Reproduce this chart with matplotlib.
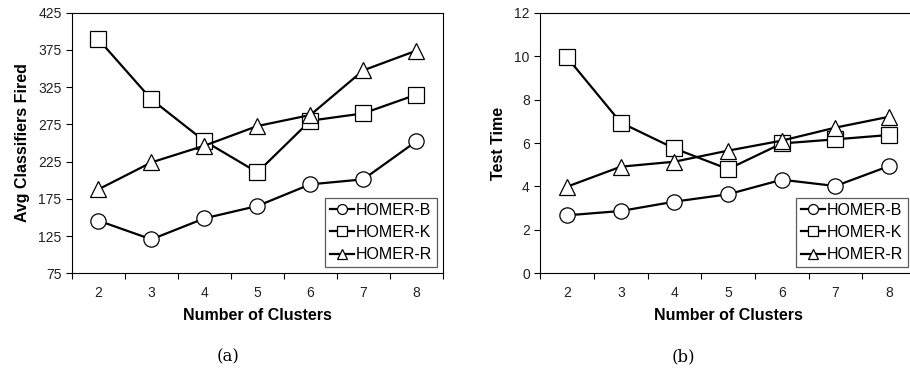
import matplotlib
matplotlib.use("Agg")
import matplotlib.pyplot as plt

plt.rcParams['font.family'] = ['Liberation Sans', 'DejaVu Sans']

clusters = [2, 3, 4, 5, 6, 7, 8]
series_names = ["HOMER-B", "HOMER-K", "HOMER-R"]
markers = ["o", "s", "^"]

# (a) Avg Classifiers Fired
fired_b = [145.7, 120.6, 148.8, 165.4, 194.5, 201.2, 252.2]
fired_k = [389.2, 308.6, 252.7, 210.6, 280.0, 289.8, 314.9]
fired_r = [187.8, 224.0, 246.4, 272.8, 287.6, 347.6, 374.0]

# (b) Test Time
time_b = [2.67, 2.87, 3.30, 3.64, 4.31, 4.02, 4.94]
time_k = [9.94, 6.94, 5.75, 4.80, 5.98, 6.17, 6.37]
time_r = [3.99, 4.91, 5.14, 5.65, 6.11, 6.71, 7.21]

yticks_a = [75, 125, 175, 225, 275, 325, 375, 425]
yticks_b = [0, 2, 4, 6, 8, 10, 12]

fig = plt.figure(figsize=(9.10, 3.71), dpi=100)
ax1 = fig.add_axes([0.0791, 0.2633, 0.4074, 0.7024])
ax2 = fig.add_axes([0.5937, 0.2633, 0.4129, 0.7024])


def draw(ax, data, yticks, ylabel, legend_kw):
    for vals, m, name in zip(data, markers, series_names):
        ms = 11 if m != "^" else 12
        ax.plot(clusters, vals, color="black", lw=1.6, marker=m, ms=ms,
                mfc="white", mec="black", mew=0.9, label=name, zorder=3)
    ax.set_xlim(1.5, 8.5)
    ax.set_ylim(yticks[0], yticks[-1])
    ax.set_yticks(yticks)
    ax.set_xticks([c - 0.5 for c in clusters] + [clusters[-1] + 0.5])
    ax.set_xticklabels([])
    ax.set_xticks(clusters, minor=True)
    ax.set_xticklabels([str(c) for c in clusters], minor=True)
    ax.tick_params(axis="x", which="major", direction="out", length=4, width=0.8)
    ax.tick_params(axis="x", which="minor", length=0, pad=9, labelsize=10,
                   labelcolor="#222222")
    ax.tick_params(axis="y", direction="out", length=4, width=0.8, labelsize=10,
                   labelcolor="#222222")
    for s in ax.spines.values():
        s.set_linewidth(0.8)
    ax.set_xlabel("Number of Clusters", fontweight="bold", fontsize=11.5, labelpad=6)
    ax.set_ylabel(ylabel, fontweight="bold", fontsize=11.5, labelpad=6)
    leg = ax.legend(frameon=True, fancybox=False, fontsize=11.5, handlelength=1.5,
                    handletextpad=0.15, borderpad=0.3, labelspacing=0.45,
                    markerscale=0.65, borderaxespad=0, **legend_kw)
    leg.get_frame().set_edgecolor("#333333")
    leg.get_frame().set_linewidth(0.9)


draw(ax1, [fired_b, fired_k, fired_r], yticks_a, "Avg Classifiers Fired",
     dict(loc="lower right", bbox_to_anchor=(0.985, 0.024)))
draw(ax2, [time_b, time_k, time_r], yticks_b, "Test Time",
     dict(loc="lower left", bbox_to_anchor=(0.68, 0.024)))

fig.text(228 / 910, 1 - 357 / 371, "(a)", ha="center", va="center",
         family="DejaVu Serif", fontsize=12)
fig.text(683 / 910, 1 - 357 / 371, "(b)", ha="center", va="center",
         family="DejaVu Serif", fontsize=12)

fig.savefig("out.png", dpi=100)
